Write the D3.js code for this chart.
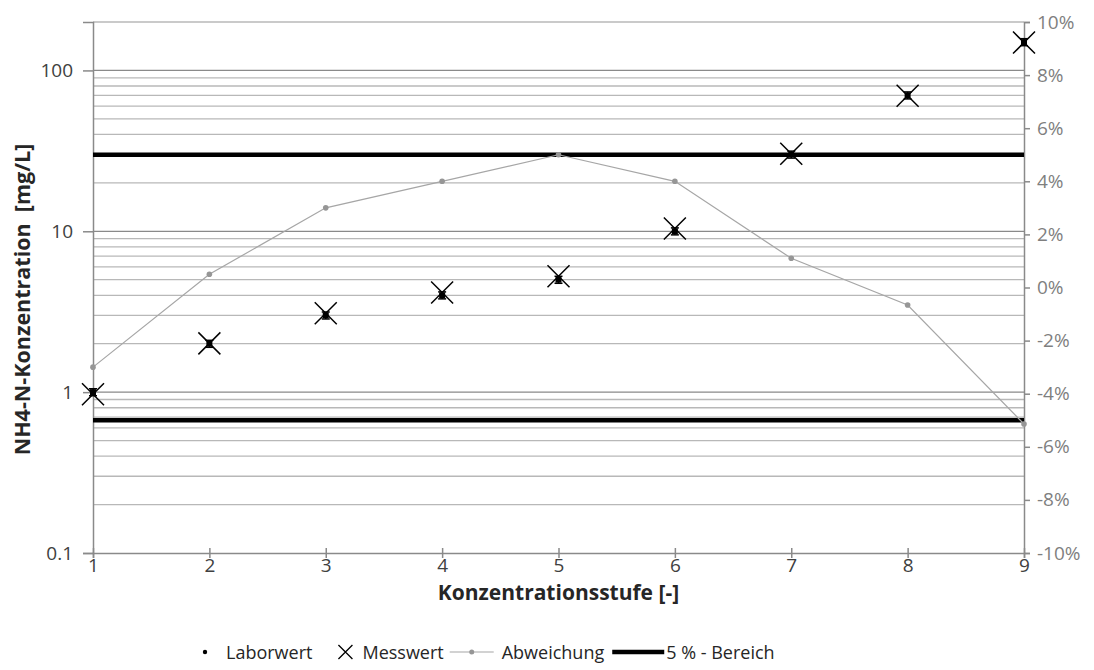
<!DOCTYPE html>
<html>
<head>
<style>
  body { margin: 0; background: #fff; }
  text { font-family: "Open Sans", Lato, sans-serif; }
</style>
</head>
<body>
<script src="https://d3js.org/d3.v7.min.js"></script>
<script>

const width = 1094;
const height = 670;

const stufen = [1, 2, 3, 4, 5, 6, 7, 8, 9];
const laborwert = [1, 2, 3, 4, 5, 10, 30, 70, 150];
const messwert = [0.97, 2.01, 3.09, 4.16, 5.25, 10.4, 30.3, 69.5, 149];
const abweichung = [-0.03, 0.005, 0.03, 0.04, 0.05, 0.04, 0.011, -0.0066, -0.0514];
const bereich = [0.05, -0.05];
const leftTicks = [0.1, 1, 10, 100];
const rightTicks = [-0.1, -0.08, -0.06, -0.04, -0.02, 0, 0.02, 0.04, 0.06, 0.08, 0.1];
const legendItems = ['Laborwert', 'Messwert', 'Abweichung', '5 % - Bereich'];

const margin = {left: 93, right: 70, top: 22, bottom: 117};
const x0 = margin.left, x1 = width - margin.right;
const y0 = height - margin.bottom, y1 = margin.top;
const font = '"Open Sans", Lato, sans-serif';
const tickFont = 19;

const svg = d3.select('body').append('svg')
  .attr('width', width)
  .attr('height', height);

const x = d3.scaleLinear().domain([1, 9]).range([x0, x1]);
const y = d3.scaleLog().domain([0.1, 200]).range([y0, y1]);
const yr = d3.scaleLinear().domain([-0.1, 0.1]).range([y0, y1]);

// log grid
const grid = [];
[0.1, 1, 10, 100].forEach(d => {
  for (let k = 1; k <= 9; k++) {
    const v = +(d * k).toPrecision(3);
    if (v > 0.1 && v <= 200) grid.push({v, major: k === 1});
  }
});

svg.append('g').selectAll('line')
  .data(grid)
  .enter().append('line')
  .attr('x1', x0).attr('x2', x1)
  .attr('y1', d => y(d.v)).attr('y2', d => y(d.v))
  .attr('stroke', d => d.major ? '#8a8a8a' : '#b8b8b8')
  .attr('stroke-width', 1.3);

// axes
const leftAxis = svg.append('g')
  .attr('transform', `translate(${x0},0)`)
  .call(d3.axisLeft(y).tickValues(leftTicks).tickFormat(d3.format('')).tickSize(10).tickPadding(10));
leftAxis.select('.domain').attr('stroke', '#8a8a8a').attr('stroke-width', 1.5);
leftAxis.selectAll('.tick line').attr('stroke', '#8a8a8a').attr('stroke-width', 1.5);
leftAxis.selectAll('.tick text').attr('fill', '#404040').attr('font-size', tickFont).attr('font-family', font);

const rightAxis = svg.append('g')
  .attr('transform', `translate(${x1},0)`)
  .call(d3.axisRight(yr).tickValues(rightTicks).tickFormat(d3.format('.0%')).tickSize(6).tickPadding(7));
rightAxis.select('.domain').attr('stroke', '#8a8a8a').attr('stroke-width', 1.5);
rightAxis.selectAll('.tick line').attr('stroke', '#8a8a8a').attr('stroke-width', 1.5);
rightAxis.selectAll('.tick text').attr('fill', '#7f7f7f').attr('font-size', tickFont).attr('font-family', font)
  .text(d => d3.format('.0%')(d).replace('−', '-'));

const bottomAxis = svg.append('g')
  .attr('transform', `translate(0,${y0})`)
  .call(d3.axisBottom(x).tickValues(stufen).tickFormat(d3.format('d')).tickSize(5).tickPadding(0));
bottomAxis.select('.domain').attr('stroke', '#8a8a8a').attr('stroke-width', 1.5);
bottomAxis.selectAll('.tick line').attr('stroke', '#8a8a8a').attr('stroke-width', 1.5).attr('y1', -5);
bottomAxis.selectAll('.tick text').attr('fill', '#404040').attr('font-size', tickFont).attr('font-family', font);

// 5% band lines
svg.append('g').selectAll('line')
  .data(bereich)
  .enter().append('line')
  .attr('x1', x0).attr('x2', x1)
  .attr('y1', d => yr(d)).attr('y2', d => yr(d))
  .attr('stroke', '#000').attr('stroke-width', 4.5);

// Abweichung line
const abw = stufen.map((s, i) => [s, abweichung[i]]);
svg.append('path')
  .datum(abw)
  .attr('fill', 'none')
  .attr('stroke', '#a6a6a6')
  .attr('stroke-width', 1.2)
  .attr('d', d3.line().x(d => x(d[0])).y(d => yr(d[1])));
svg.append('g').selectAll('circle')
  .data(abw)
  .enter().append('circle')
  .attr('cx', d => x(d[0])).attr('cy', d => yr(d[1]))
  .attr('r', 2.8).attr('fill', '#969696');

// Laborwert with error bars (+-5 %)
const lab = svg.append('g');
stufen.forEach((s, i) => {
  const v = laborwert[i];
  const cx = x(s);
  const g = lab.append('g').attr('stroke', '#000').attr('stroke-width', 1.5);
  g.append('line').attr('x1', cx).attr('x2', cx).attr('y1', y(v * 1.05)).attr('y2', y(v * 0.95));
  g.append('line').attr('x1', cx - 4).attr('x2', cx + 4).attr('y1', y(v * 1.05)).attr('y2', y(v * 1.05));
  g.append('line').attr('x1', cx - 4).attr('x2', cx + 4).attr('y1', y(v * 0.95)).attr('y2', y(v * 0.95));
  lab.append('rect').attr('x', cx - 3).attr('y', y(v) - 3).attr('width', 6).attr('height', 6).attr('fill', '#000');
});

// Messwert crosses
const sz = 11;
svg.append('g').selectAll('path')
  .data(stufen.map((s, i) => [s, messwert[i]]))
  .enter().append('path')
  .attr('d', d => {
    const cx = x(d[0]), cy = y(d[1]);
    return `M${cx - sz},${cy - sz}L${cx + sz},${cy + sz}M${cx - sz},${cy + sz}L${cx + sz},${cy - sz}`;
  })
  .attr('stroke', '#000').attr('stroke-width', 1.5).attr('fill', 'none');

// axis titles
svg.append('text')
  .attr('x', (x0 + x1) / 2).attr('y', 600)
  .attr('text-anchor', 'middle')
  .attr('font-size', 21).attr('font-weight', 'bold').attr('fill', '#262626')
  .text('Konzentrationsstufe [-]');

svg.append('text')
  .attr('transform', `translate(30,${(y0 + y1) / 2 + 12}) rotate(-90)`)
  .attr('text-anchor', 'middle')
  .attr('font-size', 21.5).attr('font-weight', 'bold').attr('fill', '#262626')
  .attr('xml:space', 'preserve')
  .text('NH4-N-Konzentration  [mg/L]');

// legend, laid out left to right from measured text widths
const ly = 652;
const legend = svg.append('g').attr('font-size', 18).attr('fill', '#262626');
const symbols = [
  (g, cx) => g.append('circle').attr('cx', cx).attr('cy', ly).attr('r', 2.2).attr('fill', '#000'),
  (g, cx) => g.append('path').attr('d', `M${cx - 7},${ly - 7}L${cx + 7},${ly + 7}M${cx - 7},${ly + 7}L${cx + 7},${ly - 7}`)
    .attr('stroke', '#000').attr('stroke-width', 1.3),
  (g, cx) => {
    g.append('line').attr('x1', cx - 22).attr('x2', cx + 22).attr('y1', ly).attr('y2', ly)
      .attr('stroke', '#a6a6a6').attr('stroke-width', 1.2);
    g.append('circle').attr('cx', cx).attr('cy', ly).attr('r', 2.5).attr('fill', '#969696');
  },
  (g, cx) => g.append('line').attr('x1', cx - 26).attr('x2', cx + 26).attr('y1', ly).attr('y2', ly)
    .attr('stroke', '#000').attr('stroke-width', 4.5)
];
const symW = [6, 14, 44, 52];
const before = [0, 26, 6, 8];
const after = [18, 10, 8, 2];
let cursor = 202;
legendItems.forEach((name, i) => {
  cursor += before[i];
  symbols[i](legend, cursor + symW[i] / 2);
  cursor += symW[i] + after[i];
  const t = legend.append('text').attr('x', cursor).attr('y', ly + 6.5).text(name);
  cursor += t.node().getComputedTextLength();
});

</script>
</body>
</html>
